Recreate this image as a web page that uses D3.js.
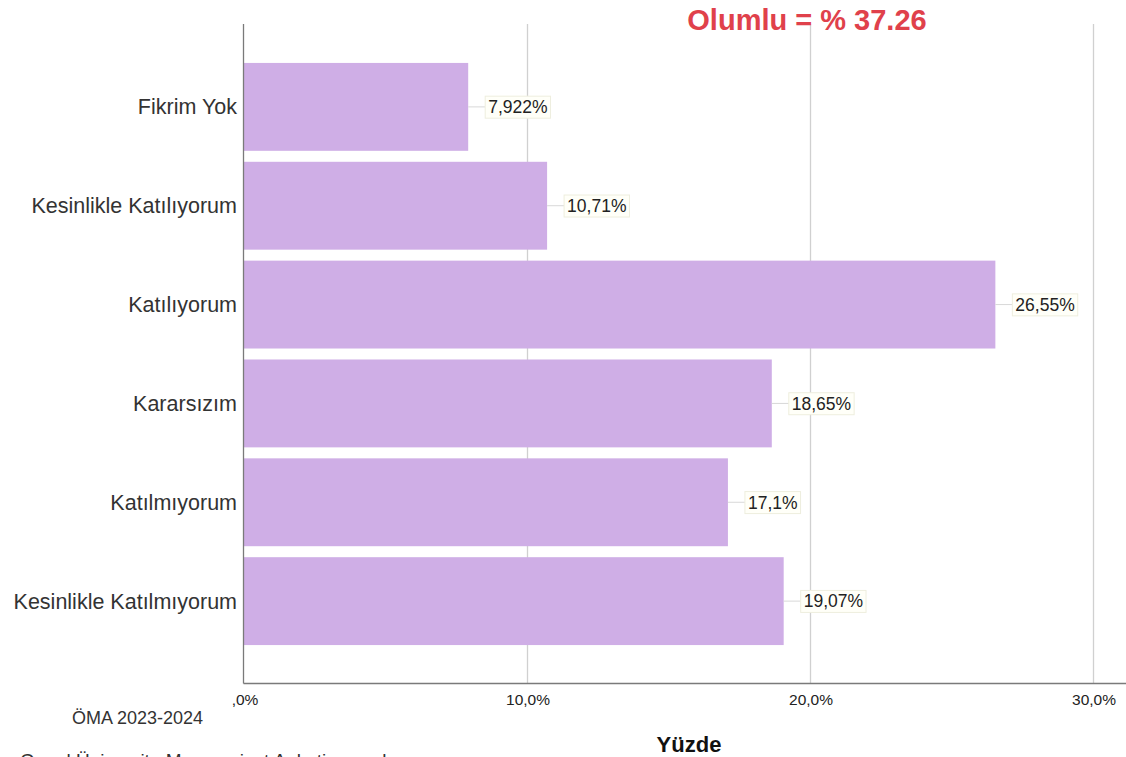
<!DOCTYPE html>
<html>
<head>
<meta charset="utf-8">
<script src="https://cdn.jsdelivr.net/npm/d3@7"></script>
<style>
  body { margin: 0; background: #fff; }
  svg { display: block; font-family: "Liberation Sans", Arial, sans-serif; }
</style>
</head>
<body>
<svg id="svg"></svg>
<script>
// Data
const categories = ["Fikrim Yok", "Kesinlikle Katılıyorum", "Katılıyorum", "Kararsızım", "Katılmıyorum", "Kesinlikle Katılmıyorum"];
const percents = [7.922, 10.71, 26.55, 18.65, 17.1, 19.07];
const valueLabels = ["7,922%", "10,71%", "26,55%", "18,65%", "17,1%", "19,07%"];
const tickValues = [0, 10, 20, 30];
const tickLabels = [",0%", "10,0%", "20,0%", "30,0%"];

const width = 1126;
const height = 757;

let svg = d3.select("#svg").attr("width", width).attr("height", height);

// Scales
let x = d3.scaleLinear().domain([0, 30]).range([244, 1093]);
let y = d3.scaleBand()
    .domain(categories)
    .range([57.5, 650.5])
    .paddingInner(0.111)
    .paddingOuter(0.055);

const plotTop = 24;
const plotBottom = 683;

// Grid lines
svg.append("g")
    .selectAll("line")
    .data(tickValues.slice(1))
    .enter()
    .append("line")
    .attr("x1", d => x(d) + 0.5)
    .attr("x2", d => x(d) + 0.5)
    .attr("y1", plotTop)
    .attr("y2", plotBottom)
    .attr("stroke", "#d0d0d0")
    .attr("stroke-width", 1.3);

// Bars
svg.append("g")
    .selectAll("rect")
    .data(categories)
    .enter()
    .append("rect")
    .attr("x", x(0))
    .attr("y", d => y(d))
    .attr("width", (d, i) => x(percents[i]) - x(0))
    .attr("height", y.bandwidth())
    .attr("fill", "#cfaee6");

// Axes lines
svg.append("line")
    .attr("x1", 243.5).attr("x2", 243.5)
    .attr("y1", plotTop).attr("y2", plotBottom + 0.5)
    .attr("stroke", "#7a7a7a").attr("stroke-width", 1.3);
svg.append("line")
    .attr("x1", 243.5).attr("x2", 1126)
    .attr("y1", plotBottom + 0.5).attr("y2", plotBottom + 0.5)
    .attr("stroke", "#7a7a7a").attr("stroke-width", 1.3);

// X tick labels
svg.append("g")
    .selectAll("text")
    .data(tickValues)
    .enter()
    .append("text")
    .attr("x", d => x(d) + 1)
    .attr("y", 705)
    .attr("text-anchor", "middle")
    .style("font-size", "15.5px")
    .style("fill", "#222")
    .text((d, i) => tickLabels[i]);

// Category labels
svg.append("g")
    .selectAll("text")
    .data(categories)
    .enter()
    .append("text")
    .attr("x", 237)
    .attr("y", d => y(d) + y.bandwidth() / 2)
    .attr("dy", "0.35em")
    .attr("text-anchor", "end")
    .style("font-size", "21.5px")
    .style("fill", "#333")
    .text(d => d);

// Value labels with leader lines
let labels = svg.append("g")
    .selectAll("g")
    .data(categories)
    .enter()
    .append("g")
    .attr("transform", (d, i) => "translate(" + x(percents[i]) + "," + (y(d) + y.bandwidth() / 2) + ")");

labels.append("line")
    .attr("x1", 0).attr("x2", 17)
    .attr("y1", 0).attr("y2", 0)
    .attr("stroke", "#d8d8d8");

labels.append("text")
    .attr("x", 20)
    .attr("dy", "0.36em")
    .style("font-size", "17.5px")
    .style("fill", "#222")
    .text((d, i) => valueLabels[i]);

labels.each(function() {
    let g = d3.select(this);
    let bb = g.select("text").node().getBBox();
    g.insert("rect", "text")
        .attr("x", bb.x - 3)
        .attr("y", bb.y - 1)
        .attr("width", bb.width + 6)
        .attr("height", bb.height + 2)
        .attr("fill", "#fffff8")
        .attr("stroke", "#eeeede")
        .attr("stroke-width", 1);
});

// Title
svg.append("text")
    .attr("x", 807)
    .attr("y", 30)
    .attr("text-anchor", "middle")
    .style("font-size", "29px")
    .style("font-weight", "bold")
    .style("fill", "#e0414b")
    .text("Olumlu = % 37.26");

// Footnote and axis title
svg.append("text")
    .attr("x", 72)
    .attr("y", 724)
    .style("font-size", "18px")
    .style("fill", "#333")
    .text("ÖMA 2023-2024");

svg.append("text")
    .attr("x", 689)
    .attr("y", 752)
    .attr("text-anchor", "middle")
    .style("font-size", "22px")
    .style("font-weight", "bold")
    .style("fill", "#111")
    .text("Yüzde");

// bottom caption, cut off by the lower edge as in the source image
svg.append("text")
    .attr("x", 20)
    .attr("y", 767)
    .style("font-size", "19px")
    .style("fill", "#333")
    .text("Genel Üniversite Memnuniyet Anketi sonuçları");
</script>
</body>
</html>
